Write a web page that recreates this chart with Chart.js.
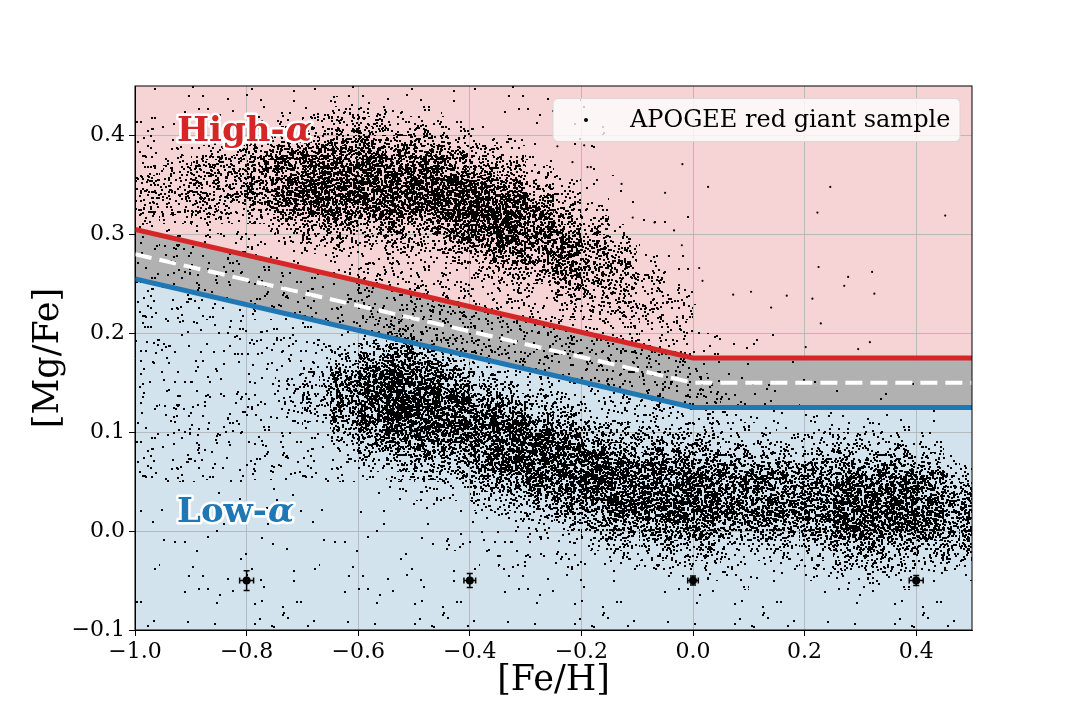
<!DOCTYPE html>
<html>
<head>
<meta charset="utf-8">
<script src="https://cdn.jsdelivr.net/npm/chart.js@4.4.1/dist/chart.umd.min.js"></script>
<style>
  html, body { margin: 0; padding: 0; background: #fff; }
  #wrap { width: 1080px; height: 720px; }
</style>
</head>
<body>
<div id="wrap"><canvas id="chart" width="1080" height="720"></canvas></div>
<script>
// Limiti delle regioni alto/basso alpha
const lineFeH = [-1.0, 0.0, 0.5];
const highBound = [0.305, 0.175, 0.175];
const divider = [0.28, 0.15, 0.15];
const lowBound = [0.255, 0.125, 0.125];

// Barre d'errore tipiche
const errFeH = [-0.8, -0.4, 0.0, 0.4];
const errMgFe = [-0.05, -0.05, -0.05, -0.05];
const errX = [0.0125, 0.0105, 0.0095, 0.0125];
const errY = [0.010, 0.007, 0.0045, 0.005];

// Stelle isolate (zona in alto a destra)
const outFeH = [0.246, 0.452, 0.223, 0.027, -0.019, 0.225, 0.278, 0.321, 0.271, 0.325, 0.168, 0.214, 0.104,
  0.140, 0.229, 0.317, 0.296, 0.202, 0.011, 0.017, 0.072, -0.243, -0.216, -0.195, -0.189, -0.183, -0.128,
  -0.050, -0.108, -0.069, -0.034, -0.020];
const outMgFe = [0.348, 0.319, 0.322, 0.348, 0.371, 0.267, 0.257, 0.262, 0.248, 0.240, 0.238, 0.235, 0.242,
  0.226, 0.210, 0.191, 0.184, 0.186, 0.266, 0.253, 0.239, 0.389, 0.373, 0.390, 0.368, 0.368, 0.351,
  0.342, 0.317, 0.312, 0.304, 0.289];

// Densità del campione APOGEE (livelli 0-9), colonne larghe 0.05 in [Fe/H],
// righe alte 0.01 in [Mg/Fe] a partire da -0.1 (dal basso verso l'alto)
const binFeH = [-1.00, -0.95, -0.90, -0.85, -0.80, -0.75, -0.70, -0.65, -0.60, -0.55,
  -0.50, -0.45, -0.40, -0.35, -0.30, -0.25, -0.20, -0.15, -0.10, -0.05,
  0.00, 0.05, 0.10, 0.15, 0.20, 0.25, 0.30, 0.35, 0.40, 0.45];
const binWidthFeH = 0.05;
const binMgFeStart = -0.1;
const binHeightMgFe = 0.01;
const density = [
  "1111111111 1111122222 2222222222 2222222222 3444443222 22111",
  "1111111111 1111122222 2222222222 2222222222 2344444322 22111",
  "1111111111 1111122222 2222222222 2222222222 3455555432 22111",
  "1111111111 1111122222 2222222222 2222222222 2345555543 22111",
  "1111111111 1111122222 2222222222 2222222222 3456666654 32111",
  "1111111111 1111122222 2333332222 2222222223 4567777765 43211",
  "1111111111 1111122222 3444443222 2222222234 5678888876 54321",
  "1111111111 1111122234 5666665432 2222222234 5678888876 54321",
  "1111111111 1111123456 7888887654 3333333334 5678888876 54321",
  "1111111111 1111234567 8999998765 4333333345 6788888765 43211",
  "1111111111 1112345678 9999987654 3333333345 6788888765 43211",
  "1111111122 1112345678 8888765433 3333333456 7888887654 32111",
  "1111111222 1234567888 8876543333 3333334567 8888876543 21111",
  "1111112222 2345678888 8765433333 3333345678 8888765432 11111",
  "1111112223 3456788888 7654333333 3333345677 7776543211 11111",
  "1111112233 4567888887 6543333333 3334567777 7654321111 11110",
  "1111112234 5678888876 5433333333 3334566666 5432111110 10100",
  "1111112345 6788888765 4333333333 3345555543 2111110100 00000",
  "1111112345 6788888765 4333333333 3444443211 1101000000 00000",
  "1111123456 7888887654 3333333333 3333211100 0100000000 00000",
  "1111123456 7888887654 3333332222 1110000000 0000000000 00000",
  "1111222345 6777776543 3222221111 1000000000 0000000000 00000",
  "1111122345 6777776543 3222211111 0000000000 0000000000 00000",
  "1111122345 6777776543 2211111100 0000000000 0000000000 00000",
  "1111122345 6777776543 2211110000 0000000000 0000000000 00000",
  "1111234567 8888876543 2111100000 0000000000 0000000000 00000",
  "1111234567 8888876543 2111100000 0000000000 0000000000 00000",
  "1111234567 8888876543 2111100000 0000000000 0000000000 00000",
  "1111123456 7777765432 1111000000 0000000000 0000000000 00000",
  "1111123456 6666543211 1100000000 0000000000 0000000000 00000"
];

// Copertura di nero per ogni livello di densità
const COVER = [0, 0.012, 0.05, 0.12, 0.22, 0.34, 0.47, 0.60, 0.72, 0.82];

const SERIF = '"DejaVu Serif", "Liberation Serif", serif';

// Tessitura a puntini (deterministica) per riempire le celle
function hash(x, y) {
  let h = (Math.imul(x + 1, 73856093) ^ Math.imul(y + 1, 19349663)) >>> 0;
  h ^= h >>> 16;
  h = Math.imul(h, 0x85ebca6b);
  h ^= h >>> 13;
  h = Math.imul(h, 0xc2b2ae35);
  h ^= h >>> 16;
  return (h >>> 0) / 4294967296;
}

let patterns = null;
function buildPatterns(ctx) {
  const T = 160;
  patterns = COVER.map(cov => {
    const c = document.createElement('canvas');
    c.width = T; c.height = T;
    const g = c.getContext('2d');
    const p = 1 - Math.pow(1 - cov, 0.25);
    g.fillStyle = '#000';
    for (let yy = 0; yy < T; yy++) {
      for (let xx = 0; xx < T; xx++) {
        if (hash(xx, yy) < p) g.fillRect(xx, yy, 2, 2);
      }
    }
    return ctx.createPattern(c, 'repeat');
  });
}

const densityPlugin = {
  id: 'density',
  beforeDatasetsDraw(chart) {
    const { ctx, chartArea: a, scales: { x, y } } = chart;
    if (!patterns) buildPatterns(ctx);
    ctx.save();
    ctx.beginPath();
    ctx.rect(a.left, a.top, a.right - a.left, a.bottom - a.top);
    ctx.clip();
    density.forEach((col, i) => {
      const levels = col.replace(/ /g, '');
      const xl = Math.round(x.getPixelForValue(binFeH[i]));
      const xr = Math.round(x.getPixelForValue(binFeH[i] + binWidthFeH));
      for (let r = 0; r < levels.length; r++) {
        const lv = +levels[r];
        if (!lv) continue;
        const lo = binMgFeStart + r * binHeightMgFe;
        const yb = Math.round(y.getPixelForValue(lo));
        const yt = Math.round(y.getPixelForValue(lo + binHeightMgFe));
        ctx.fillStyle = patterns[lv];
        ctx.fillRect(xl, yt, xr - xl, yb - yt);
      }
    });
    ctx.restore();
  },
  afterDatasetsDraw(chart) {
    // barre d'errore
    const { ctx, scales: { x, y } } = chart;
    ctx.save();
    ctx.strokeStyle = '#000';
    ctx.lineWidth = 1.5;
    errFeH.forEach((fe, i) => {
      const px = x.getPixelForValue(fe);
      const py = y.getPixelForValue(errMgFe[i]);
      const x0 = x.getPixelForValue(fe - errX[i]);
      const x1 = x.getPixelForValue(fe + errX[i]);
      const y0 = y.getPixelForValue(errMgFe[i] - errY[i]);
      const y1 = y.getPixelForValue(errMgFe[i] + errY[i]);
      ctx.beginPath();
      ctx.moveTo(x0, py); ctx.lineTo(x1, py);
      ctx.moveTo(x0, py - 3); ctx.lineTo(x0, py + 3);
      ctx.moveTo(x1, py - 3); ctx.lineTo(x1, py + 3);
      ctx.moveTo(px, y0); ctx.lineTo(px, y1);
      ctx.moveTo(px - 3, y0); ctx.lineTo(px + 3, y0);
      ctx.moveTo(px - 3, y1); ctx.lineTo(px + 3, y1);
      ctx.stroke();
    });
    ctx.restore();
  },
  afterDraw(chart) {
    const { ctx, chartArea: a } = chart;
    ctx.save();
    // cornice
    ctx.strokeStyle = '#000';
    ctx.lineWidth = 1;
    ctx.strokeRect(a.left, a.top, a.right - a.left, a.bottom - a.top);

    // etichette High-α / Low-α
    function label(word, color, x, yBase) {
      ctx.font = 'bold 34px ' + SERIF;
      const w = ctx.measureText(word).width;
      ctx.lineJoin = 'round';
      ctx.lineWidth = 5;
      ctx.strokeStyle = '#fff';
      ctx.fillStyle = color;
      ctx.textBaseline = 'alphabetic';
      ctx.strokeText(word, x, yBase);
      ctx.fillText(word, x, yBase);
      ctx.font = 'bold italic 34px ' + SERIF;
      ctx.strokeText('α', x + w + 1, yBase);
      ctx.fillText('α', x + w + 1, yBase);
    }
    label('High-', '#d62728', 177, 141);
    label('Low-', '#1f77b4', 177, 522);

    // legenda
    ctx.beginPath();
    ctx.roundRect(553, 98.5, 407, 43, 5);
    ctx.fillStyle = 'rgba(255,255,255,0.8)';
    ctx.fill();
    ctx.strokeStyle = '#d8d8d8';
    ctx.lineWidth = 1;
    ctx.stroke();
    ctx.beginPath();
    ctx.arc(586, 120, 2, 0, Math.PI * 2);
    ctx.fillStyle = '#000';
    ctx.fill();
    ctx.font = '24px ' + SERIF;
    ctx.fillStyle = '#000';
    ctx.textBaseline = 'alphabetic';
    ctx.fillText('APOGEE red giant sample', 630, 127);
    ctx.restore();
  }
};

function fmt(v) {
  if (Math.abs(v) < 1e-9) return '0.0';
  return v.toFixed(1).replace('-', '\u2212');
}

function pts(xs, ys) {
  return xs.map((x, i) => ({ x: x, y: ys[i] }));
}

Chart.defaults.color = '#000';

const ctx = document.getElementById('chart');
new Chart(ctx, {
  type: 'scatter',
  data: {
    datasets: [
      {
        type: 'line', label: 'high', data: pts(lineFeH, highBound),
        borderColor: '#d62728', borderWidth: 5, pointRadius: 0, tension: 0,
        fill: 'end', backgroundColor: '#f6d3d4'
      },
      {
        type: 'line', label: 'low', data: pts(lineFeH, lowBound),
        borderColor: '#1f77b4', borderWidth: 5, pointRadius: 0, tension: 0,
        fill: 'start', backgroundColor: '#d2e3ee'
      },
      {
        type: 'line', label: 'band', data: pts(lineFeH, highBound),
        borderColor: 'rgba(0,0,0,0)', borderWidth: 1, pointRadius: 0, tension: 0,
        fill: { target: 1 }, backgroundColor: '#b1b1b1'
      },
      {
        type: 'line', label: 'divider', data: pts(lineFeH, divider),
        borderColor: '#ffffff', borderWidth: 4, borderDash: [17, 8], pointRadius: 0, tension: 0,
        fill: false
      },
      {
        label: 'outliers', data: pts(outFeH, outMgFe),
        pointRadius: 1.1, pointBackgroundColor: '#000', pointBorderWidth: 0
      },
      {
        label: 'errors', data: pts(errFeH, errMgFe),
        pointRadius: 4, pointBackgroundColor: '#000', pointBorderWidth: 0
      }
    ]
  },
  options: {
    responsive: false,
    devicePixelRatio: 1,
    animation: false,
    events: [],
    layout: { padding: { left: 0, right: 108, top: 86, bottom: 0 } },
    plugins: {
      legend: { display: false },
      tooltip: { enabled: false },
      filler: { drawTime: 'beforeDraw' }
    },
    scales: {
      x: {
        type: 'linear', min: -1.0, max: 0.5, z: 1,
        afterFit(s) { s.height = 90; },
        ticks: {
          stepSize: 0.2, includeBounds: false, maxRotation: 0, autoSkip: false, padding: 3,
          font: { family: SERIF, size: 22 }, color: '#000', callback: fmt
        },
        grid: { color: '#b0b0b0', lineWidth: 0.8, tickColor: '#000', tickLength: 6, tickWidth: 1 },
        border: { color: '#000', width: 1 },
        title: {
          display: true, text: '[Fe/H]', color: '#000',
          font: { family: SERIF, size: 35 }, padding: { top: 0, bottom: 18 }
        }
      },
      y: {
        type: 'linear', min: -0.1, max: 0.45, z: 1,
        afterFit(s) { s.width = 135; },
        ticks: {
          stepSize: 0.1, includeBounds: false, autoSkip: false, padding: 4,
          font: { family: SERIF, size: 22 }, color: '#000', callback: fmt
        },
        grid: { color: '#b0b0b0', lineWidth: 0.8, tickColor: '#000', tickLength: 6, tickWidth: 1 },
        border: { color: '#000', width: 1 },
        title: {
          display: true, text: '[Mg/Fe]', color: '#000',
          font: { family: SERIF, size: 35 }, padding: { top: 28, bottom: 0 }
        }
      }
    }
  },
  plugins: [densityPlugin]
});
</script>
</body>
</html>
